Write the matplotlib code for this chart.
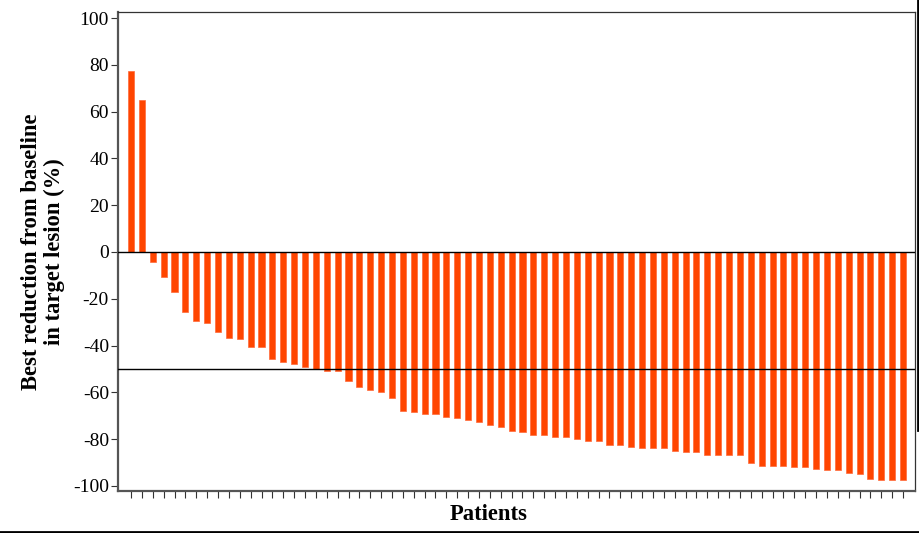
import matplotlib
matplotlib.use("Agg")
import matplotlib.pyplot as plt
from matplotlib.lines import Line2D
import numpy as np

patients = list(range(1, 73))
best_change = [
    77.5, 65.0, -4.4, -10.7, -17.1, -25.7, -29.6, -30.4, -34.3, -36.6,
    -37.3, -40.7, -40.7, -45.9, -47.1, -48.0, -49.0, -49.9, -51.0, -51.0,
    -55.3, -57.9, -59.1, -60.0, -62.6, -68.1, -68.6, -69.4, -69.4, -70.7,
    -71.1, -72.0, -72.9, -74.1, -75.0, -76.7, -77.1, -78.4, -78.4, -78.9,
    -78.9, -80.1, -81.0, -81.0, -82.7, -82.7, -83.6, -84.0, -84.0, -84.0,
    -84.9, -85.7, -85.7, -86.6, -87.0, -87.0, -87.0, -90.4, -91.7, -91.7,
    -91.7, -92.1, -92.1, -93.0, -93.4, -93.4, -94.3, -95.1, -96.9, -97.7,
    -97.7, -97.7,
]
y_ticks = [100, 80, 60, 40, 20, 0, -20, -40, -60, -80, -100]
ref_lines = [0, -50]

plt.rcParams['font.family'] = ['Liberation Serif', 'DejaVu Serif']
plt.rcParams['axes.unicode_minus'] = False

W, H = 920, 533
fig = plt.figure(figsize=(W / 100, H / 100), dpi=100)
ax = fig.add_axes([118/W, 1 - 491/H, (915-118)/W, (491-12)/H])

x = np.arange(len(best_change))
ax.bar(x, best_change, width=0.56, color='#FF4500', edgecolor='#FF6A3A', linewidth=0.5, zorder=2)
for yl in ref_lines:
    ax.axhline(yl, color='black', linewidth=1.0, zorder=3)

ax.set_xlim(-1.2, len(best_change) + 0.1)
ax.set_ylim(-102.2, 102.6)
ax.set_yticks(y_ticks)
ax.set_yticklabels([str(v) for v in y_ticks], fontsize=14)
ax.set_xticks(x)
ax.set_xticklabels([])
ax.tick_params(axis='x', direction='out', length=5, width=0.8, color='#333333')
ax.tick_params(axis='y', direction='out', length=5, width=0.8, color='#333333', pad=1.5)

for side in ['left', 'bottom']:
    ax.spines[side].set_color('#555555')
    ax.spines[side].set_linewidth(1.6)
for side in ['top', 'right']:
    ax.spines[side].set_color('#333333')
    ax.spines[side].set_linewidth(0.9)

fig.text(43/W, 1 - 252/H, 'Best reduction from baseline\nin target lesion (%)',
         rotation=90, ha='center', va='center', fontsize=16.3,
         fontweight='bold', linespacing=1.15)
fig.text(489/W, 1 - 514/H, 'Patients', ha='center', va='center',
         fontsize=16.3, fontweight='bold')

# image border lines (bottom and right)
fig.add_artist(Line2D([0, 1], [1.5/H, 1.5/H], transform=fig.transFigure,
                      color='black', linewidth=2))
fig.add_artist(Line2D([1 - 1.5/W, 1 - 1.5/W], [1 - 430/H, 1], transform=fig.transFigure,
                      color='black', linewidth=2))

fig.savefig('out.png', dpi=100)
